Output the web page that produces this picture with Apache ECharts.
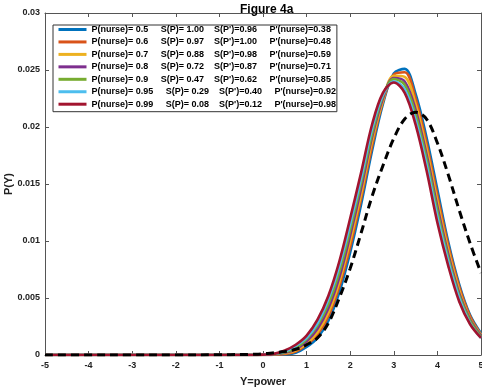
<!DOCTYPE html>
<html>
<head>
<meta charset="utf-8">
<script src="https://cdn.jsdelivr.net/npm/echarts@6/dist/echarts.min.js"></script>
<style>
html,body{margin:0;padding:0;background:#fff;}
#chart{width:482px;height:388px;}
</style>
</head>
<body>
<div id="chart"></div>
<script>
// ---- data ----
const xValues = [-5,-4,-3,-2,-1,-0.75,-0.5,-0.25,0,0.25,0.5,0.75,1,1.25,1.5,1.75,2,2.25,2.5,2.75,3,3.25,3.5,3.75,4,4.25,4.5,4.75,5];

const pNurse      = ['0.5','0.6','0.7','0.8','0.9','0.95','0.99'];
const sP          = ['1.00','0.97','0.88','0.72','0.47','0.29','0.08'];
const sPprime     = ['0.96','1.00','0.98','0.87','0.62','0.40','0.12'];
const pPrimeNurse = ['0.38','0.48','0.59','0.71','0.85','0.92','0.98'];

const yP050 = [0,0,0,0,0,0,0,0,0,0.00002,0.00005,0.0002,0.0007,0.0015,0.0030,0.0055,0.0090,0.0132,0.0179,0.0220,0.0247,0.0251,0.0229,0.0191,0.0145,0.0099,0.0062,0.0035,0.0019];
const yP060 = [0,0,0,0,0,0,0,0,0.000005,0.00003,0.0001,0.0003,0.0009,0.0018,0.0034,0.0060,0.0095,0.0137,0.0183,0.0222,0.0246,0.0248,0.0225,0.0186,0.0140,0.0096,0.0060,0.0034,0.0018];
const yP070 = [0,0,0,0,0,0,0,0,0.00001,0.00005,0.00015,0.0004,0.0010,0.0020,0.0037,0.0064,0.0100,0.0141,0.0187,0.0223,0.0245,0.0244,0.0220,0.0181,0.0135,0.0092,0.0057,0.0032,0.0018];
const yP080 = [0,0,0,0,0,0,0,0,0.00002,0.00006,0.0002,0.0005,0.0012,0.0023,0.0041,0.0068,0.0105,0.0146,0.0191,0.0225,0.0243,0.0240,0.0215,0.0176,0.0130,0.0088,0.0054,0.0031,0.0017];
const yP090 = [0,0,0,0,0,0,0,0,0.00002,0.00007,0.00025,0.0006,0.0014,0.0026,0.0045,0.0073,0.0110,0.0151,0.0194,0.0227,0.0242,0.0237,0.0211,0.0172,0.0126,0.0085,0.0052,0.0030,0.0016];
const yP095 = [0,0,0,0,0,0,0,0,0.00003,0.00009,0.0003,0.0008,0.0015,0.0028,0.0049,0.0078,0.0115,0.0155,0.0198,0.0228,0.0240,0.0233,0.0206,0.0167,0.0121,0.0082,0.0050,0.0028,0.0015];
const yP099 = [0,0,0,0,0,0,0,0,0.00003,0.0001,0.0004,0.0009,0.0017,0.0031,0.0052,0.0082,0.0120,0.0160,0.0202,0.0230,0.0239,0.0230,0.0202,0.0162,0.0116,0.0078,0.0047,0.0027,0.0015];
const yDashed = [0,0,0,0,0.00002,0.00003,0.00004,0.00006,0.0001,0.0002,0.0003,0.0005,0.0009,0.0015,0.0028,0.0050,0.0076,0.0107,0.0139,0.0166,0.0190,0.0207,0.0213,0.0207,0.0186,0.0158,0.0127,0.0098,0.0072];

const xTicks = [-5,-4,-3,-2,-1,0,1,2,3,4,5];
const yTicks = [0,0.005,0.01,0.015,0.02,0.025,0.03];

const colors = ['#0072BD','#D95319','#EDB120','#7E2F8E','#77AC30','#4DBEEE','#A2142F'];
const curves = [yP050,yP060,yP070,yP080,yP090,yP095,yP099];

// ---- build options ----
const sp = n => ' '.repeat(n);
const names = pNurse.map((p,i) =>
  'P(nurse)= ' + p + sp(5) + 'S(P)= ' + sP[i] + sp(4) + "S(P')=" + sPprime[i] + sp(5) + "P'(nurse)=" + pPrimeNurse[i]);

const pair = ys => xValues.map((x,i) => [x, ys[i]]);

const series = curves.map((ys,i) => ({
  name: names[i],
  type: 'line',
  data: pair(ys),
  symbol: 'none',
  smooth: 0.35,
  color: colors[i],
  lineStyle: {width: 2.6, color: colors[i]},
  z: 2 + i
}));
series.push({
  name: 'dashed',
  type: 'line',
  data: pair(yDashed),
  symbol: 'none',
  smooth: 0.35,
  color: '#000',
  lineStyle: {width: 3, color: '#000', type: [8,5]},
  z: 20
});

const axisCol = '#555';
const font = 'Liberation Sans, Arial, sans-serif';
const fmtY = v => String(+v.toFixed(3));

const chart = echarts.init(document.getElementById('chart'), null, {renderer: 'canvas'});
chart.setOption({
  animation: false,
  backgroundColor: '#fff',
  title: {
    text: 'Figure 4a', left: 235, top: -1,
    textStyle: {fontFamily: font, fontSize: 12, fontWeight: 'bold', color: '#000'}
  },
  grid: {left: 45, right: 1, top: 13, bottom: 33, containLabel: false, outerBoundsMode: 'none'},
  legend: {
    data: names,
    orient: 'vertical',
    left: 53, top: 25,
    padding: [0, 1, 3, 4],
    itemWidth: 28, itemHeight: 8, itemGap: 3.45,
    backgroundColor: '#fff',
    borderColor: '#333', borderWidth: 1,
    itemStyle: {opacity: 0},
    lineStyle: {width: 3},
    textStyle: {fontFamily: font, fontSize: 9, fontWeight: 'bold', color: '#000'},
    selectedMode: false
  },
  xAxis: [{
    type: 'value', min: -5, max: 5, interval: 1,
    name: 'Y=power', nameLocation: 'middle', nameGap: 21, nameMoveOverlap: false,
    nameTextStyle: {fontFamily: font, fontSize: 11, fontWeight: 'bold', color: '#222'},
    axisLine: {show: true, onZero: false, lineStyle: {color: axisCol, width: 1}},
    axisTick: {show: true, inside: true, length: 4, lineStyle: {color: axisCol}},
    axisLabel: {fontFamily: font, fontSize: 9, fontWeight: 'bold', color: '#222', margin: 6,
      formatter: v => xTicks.includes(v) ? String(v) : ''},
    splitLine: {show: false}
  },{
    type: 'value', min: -5, max: 5, interval: 1, position: 'top',
    axisLine: {show: true, onZero: false, lineStyle: {color: axisCol, width: 1}},
    axisTick: {show: true, inside: true, length: 4, lineStyle: {color: axisCol}},
    axisLabel: {show: false}, splitLine: {show: false}
  }],
  yAxis: [{
    type: 'value', min: 0, max: 0.03, interval: 0.005,
    name: 'P(Y)', nameLocation: 'middle', nameGap: 31, nameMoveOverlap: false,
    nameTextStyle: {fontFamily: font, fontSize: 11, fontWeight: 'bold', color: '#222'},
    axisLine: {show: true, onZero: false, lineStyle: {color: axisCol, width: 1}},
    axisTick: {show: true, inside: true, length: 4, lineStyle: {color: axisCol}},
    axisLabel: {fontFamily: font, fontSize: 9, fontWeight: 'bold', color: '#222', margin: 5,
      formatter: v => yTicks.some(t => Math.abs(t - v) < 1e-9) ? fmtY(v) : ''},
    splitLine: {show: false}
  },{
    type: 'value', min: 0, max: 0.03, interval: 0.005, position: 'right',
    axisLine: {show: true, onZero: false, lineStyle: {color: axisCol, width: 1}},
    axisTick: {show: true, inside: true, length: 4, lineStyle: {color: axisCol}},
    axisLabel: {show: false}, splitLine: {show: false}
  }],
  series: series
});
</script>
</body>
</html>
